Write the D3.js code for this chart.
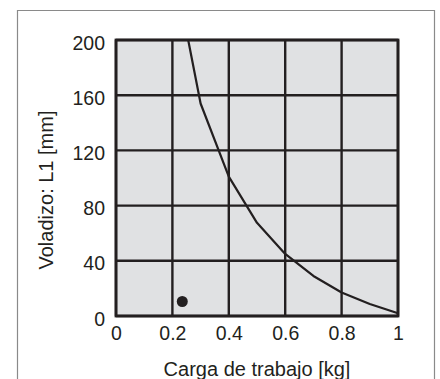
<!DOCTYPE html>
<html>
<head>
<meta charset="utf-8">
<script src="https://cdn.jsdelivr.net/npm/d3@7"></script>
<style>
  body { margin: 0; background: #fff; }
  svg { display: block; font-family: "Liberation Sans", Arial, sans-serif; }
  .tick text { fill: #231f20; font-size: 19.5px; }
</style>
</head>
<body>
<svg id="chart" width="440" height="379"></svg>
<script>
// curve: carga de trabajo [kg] vs voladizo L1 [mm]
var cargas = [0.256, 0.3, 0.4, 0.5, 0.6, 0.7, 0.8, 0.9, 1.0];
var voladizos = [200, 154, 101, 67.5, 45, 29, 17, 8.7, 2];
// single marked point
var puntoCarga = [0.235];
var puntoVoladizo = [10.5];
var xTicks = [0, 0.2, 0.4, 0.6, 0.8, 1];
var yTicks = [0, 40, 80, 120, 160, 200];

var pLeft = 116, pRight = 398, pTop = 40, pBottom = 316;

var svg = d3.select("#chart");

// outer frame (bottom edge cut off)
svg.append("path")
	.attr("d", "M17.5,380V10.5H434.5V380")
	.attr("fill", "none")
	.attr("stroke", "#8a8a8a")
	.attr("stroke-width", 1.2);

var x = d3.scaleLinear().domain([0, 1]).range([pLeft, pRight]);
var y = d3.scaleLinear().domain([0, 200]).range([pBottom, pTop]);

svg.append("rect")
	.attr("x", pLeft).attr("y", pTop)
	.attr("width", pRight - pLeft).attr("height", pBottom - pTop)
	.attr("fill", "#e0e1e3");

// grid
svg.append("g")
	.selectAll("line")
	.data(xTicks)
	.enter().append("line")
	.attr("x1", function(d) { return x(d); })
	.attr("x2", function(d) { return x(d); })
	.attr("y1", pTop).attr("y2", pBottom)
	.attr("stroke", "#231f20").attr("stroke-width", 2.4);

svg.append("g")
	.selectAll("line")
	.data(yTicks)
	.enter().append("line")
	.attr("y1", function(d) { return y(d); })
	.attr("y2", function(d) { return y(d); })
	.attr("x1", pLeft).attr("x2", pRight)
	.attr("stroke", "#231f20").attr("stroke-width", 2.4);

svg.append("rect")
	.attr("x", pLeft).attr("y", pTop)
	.attr("width", pRight - pLeft).attr("height", pBottom - pTop)
	.attr("fill", "none")
	.attr("stroke", "#231f20").attr("stroke-width", 2.8);

// axes (labels only)
var xAxis = d3.axisBottom(x).tickValues(xTicks).tickSize(0).tickPadding(9)
	.tickFormat(function(d) { return d === 0 || d === 1 ? String(d) : d3.format(".1f")(d); });
var yAxis = d3.axisLeft(y).tickValues(yTicks).tickSize(0).tickPadding(11);

var gx = svg.append("g")
	.attr("transform", "translate(0," + (pBottom + 1) + ")")
	.call(xAxis);
gx.select(".domain").remove();

var gy = svg.append("g")
	.attr("transform", "translate(" + pLeft + ",0)")
	.call(yAxis);
gy.select(".domain").remove();
gy.selectAll("text").attr("y", 2).attr("dy", "0.36em");

// curve
var data = cargas.map(function(c, i) { return { c: c, v: voladizos[i] }; });
var line = d3.line()
	.x(function(d) { return x(d.c); })
	.y(function(d) { return y(d.v); });

svg.append("path")
	.datum(data)
	.attr("d", line)
	.attr("fill", "none")
	.attr("stroke", "#231f20")
	.attr("stroke-width", 2.2)
	.attr("stroke-linejoin", "round");

svg.append("g")
	.selectAll("circle")
	.data(puntoCarga)
	.enter().append("circle")
	.attr("cx", function(d) { return x(d); })
	.attr("cy", function(d, i) { return y(puntoVoladizo[i]); })
	.attr("r", 5.5)
	.attr("fill", "#231f20");

// axis titles
svg.append("text")
	.attr("x", 257)
	.attr("y", 376)
	.attr("text-anchor", "middle")
	.attr("font-size", 20)
	.attr("fill", "#231f20")
	.text("Carga de trabajo [kg]");

svg.append("text")
	.attr("transform", "translate(52.5,190) rotate(-90)")
	.attr("text-anchor", "middle")
	.attr("font-size", 20)
	.attr("fill", "#231f20")
	.text("Voladizo: L1 [mm]");
</script>
</body>
</html>
